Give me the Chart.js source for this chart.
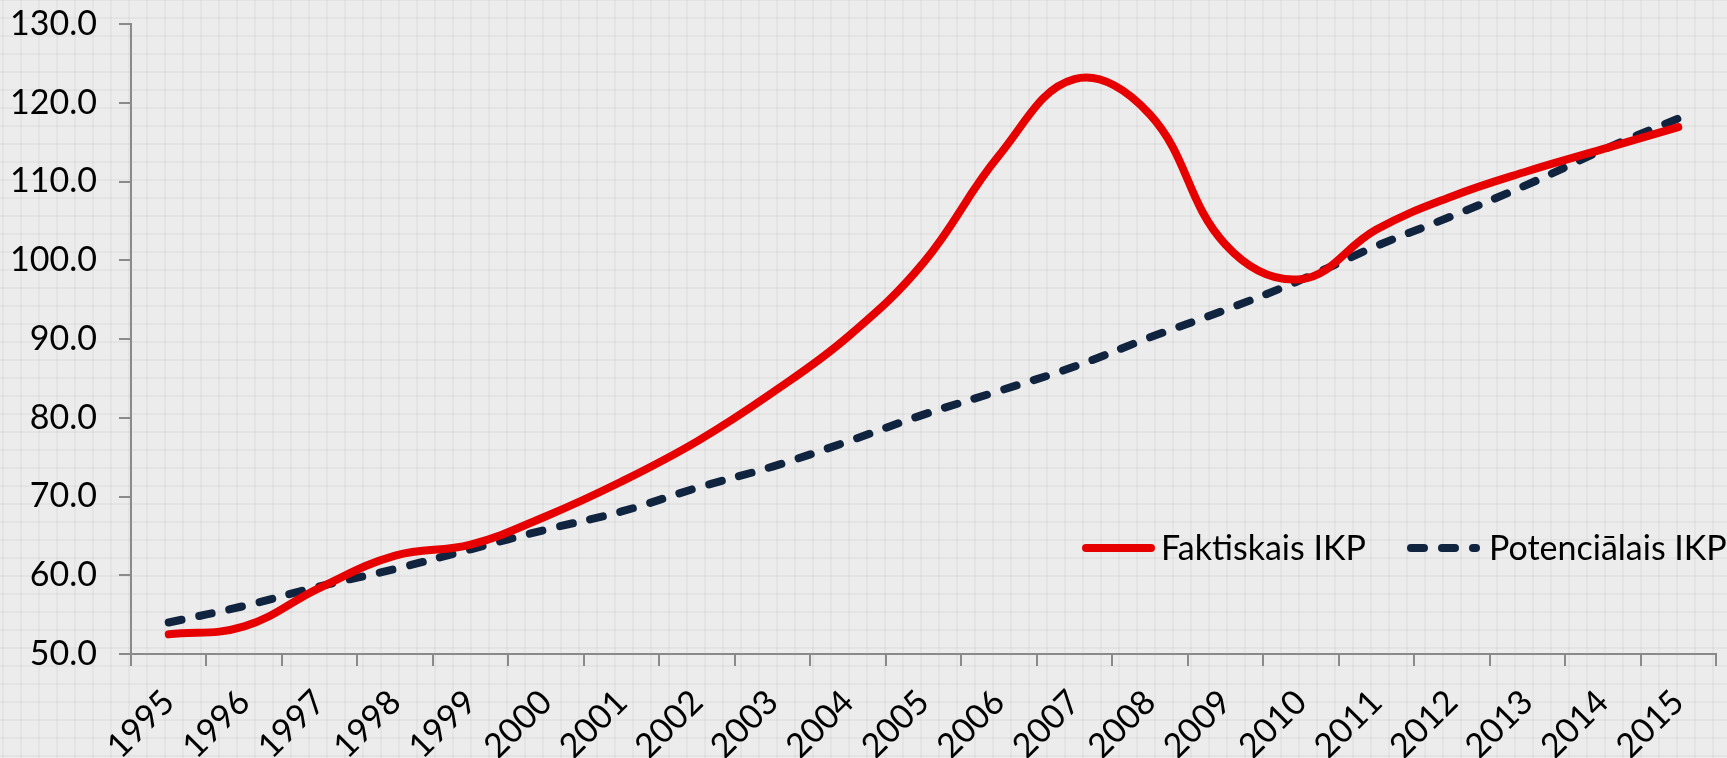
<!DOCTYPE html>
<html>
<head>
<meta charset="utf-8">
<title>Faktiskais un potenciālais IKP</title>
<script src="https://cdn.jsdelivr.net/npm/chart.js@4.4.1/dist/chart.umd.min.js"></script>
<style>
    html, body {
        margin: 0;
        padding: 0;
        width: 1727px;
        height: 758px;
        overflow: hidden;
    }
    body {
        background-color: #ececec;
        background-image:
            linear-gradient(to right, rgba(0, 0, 0, 0.035) 2px, transparent 2px),
            linear-gradient(to bottom, rgba(0, 0, 0, 0.035) 2px, transparent 2px);
        background-size: 18px 18px;
        background-position: 2px -1px;
    }
    #wrap {
        position: absolute;
        left: 0;
        top: 0;
        width: 1727px;
        height: 758px;
    }
</style>
</head>
<body>
<div id="wrap">
    <canvas id="ikp-chart" width="1727" height="758"></canvas>
</div>
<script>
// data
const years = ['1995', '1996', '1997', '1998', '1999', '2000', '2001', '2002', '2003', '2004',
    '2005', '2006', '2007', '2008', '2009', '2010', '2011', '2012', '2013', '2014', '2015'];
const faktiskais = [52.5, 53.5, 58.4, 62.5, 63.9, 67.5, 71.9, 77.0, 83.2, 90.3,
    99.7, 113.3, 123.0, 118.5, 102.0, 97.6, 103.9, 108.1, 111.3, 114.1, 116.9];
const potencialais = [54.0, 56.1, 58.6, 60.8, 63.3, 65.8, 68.1, 71.1, 73.8, 77.0,
    80.4, 83.4, 86.5, 90.2, 93.7, 97.5, 101.8, 105.6, 109.6, 114.0, 118.0];
const seriesNames = ['Faktiskais IKP', 'Potenciālais IKP'];
const yMin = 50;
const yMax = 130;
const yStep = 10;

const FONT = 'Lato, "Open Sans", sans-serif';
const AXIS_GREY = '#8a8a8a';

document.addEventListener('DOMContentLoaded', function() {
    const ctx = document.getElementById('ikp-chart').getContext('2d');

    // legend sits inside the plot, right side, like in the slide
    const insideLegend = {
        id: 'insideLegend',
        afterDraw(chart) {
            const c = chart.ctx;
            const y = 548;
            const spots = [
                { lineX: 1086, textX: 1161 },
                { lineX: 1411, textX: 1489 }
            ];
            chart.data.datasets.forEach((ds, i) => {
                const s = spots[i];
                c.save();
                c.strokeStyle = ds.borderColor;
                c.lineWidth = ds.borderWidth;
                c.lineCap = 'round';
                c.setLineDash(ds.borderDash || []);
                c.beginPath();
                c.moveTo(s.lineX, y);
                c.lineTo(s.lineX + 65, y);
                c.stroke();
                c.setLineDash([]);
                c.fillStyle = '#000';
                c.font = '34px ' + FONT;
                c.textBaseline = 'middle';
                c.textAlign = 'left';
                c.fillText(ds.label, s.textX, y + 1);
                c.restore();
            });
        }
    };

    new Chart(ctx, {
        type: 'line',
        data: {
            labels: years,
            datasets: [{
                label: seriesNames[0],
                data: faktiskais,
                borderColor: '#e60000',
                borderWidth: 8,
                borderCapStyle: 'round',
                borderJoinStyle: 'round',
                tension: 0.4,
                pointRadius: 0,
                fill: false
            }, {
                label: seriesNames[1],
                data: potencialais,
                borderColor: '#10243f',
                borderWidth: 8,
                borderDash: [13, 18],
                borderCapStyle: 'round',
                borderJoinStyle: 'round',
                tension: 0.4,
                pointRadius: 0,
                fill: false
            }]
        },
        options: {
            responsive: false,
            animation: false,
            devicePixelRatio: 1,
            layout: {
                padding: { top: 24, right: 11, left: 0, bottom: 0 }
            },
            scales: {
                x: {
                    type: 'category',
                    offset: true,
                    grid: {
                        offset: true,
                        drawOnChartArea: false,
                        drawTicks: true,
                        tickLength: 12,
                        color: AXIS_GREY,
                        lineWidth: 2
                    },
                    border: { color: AXIS_GREY, width: 2 },
                    ticks: {
                        color: '#000',
                        font: { family: FONT, size: 34 },
                        maxRotation: 45,
                        minRotation: 45,
                        autoSkip: false,
                        padding: 16
                    },
                    afterFit: function(scale) { scale.height = 104; }
                },
                y: {
                    min: yMin,
                    max: yMax,
                    grid: {
                        drawOnChartArea: false,
                        drawTicks: true,
                        tickLength: 12,
                        color: AXIS_GREY,
                        lineWidth: 2
                    },
                    border: { color: AXIS_GREY, width: 2 },
                    ticks: {
                        stepSize: yStep,
                        color: '#000',
                        font: { family: FONT, size: 34 },
                        padding: 22,
                        callback: function(v) { return Number(v).toFixed(1); }
                    },
                    afterFit: function(scale) {
                        scale.width = 131;
                        // the slide keeps the top label close to the edge
                        scale.paddingTop = 0;
                        scale.paddingBottom = 0;
                    }
                }
            },
            plugins: {
                legend: { display: false },
                tooltip: { enabled: false }
            }
        },
        plugins: [insideLegend]
    });
});
</script>
</body>
</html>
